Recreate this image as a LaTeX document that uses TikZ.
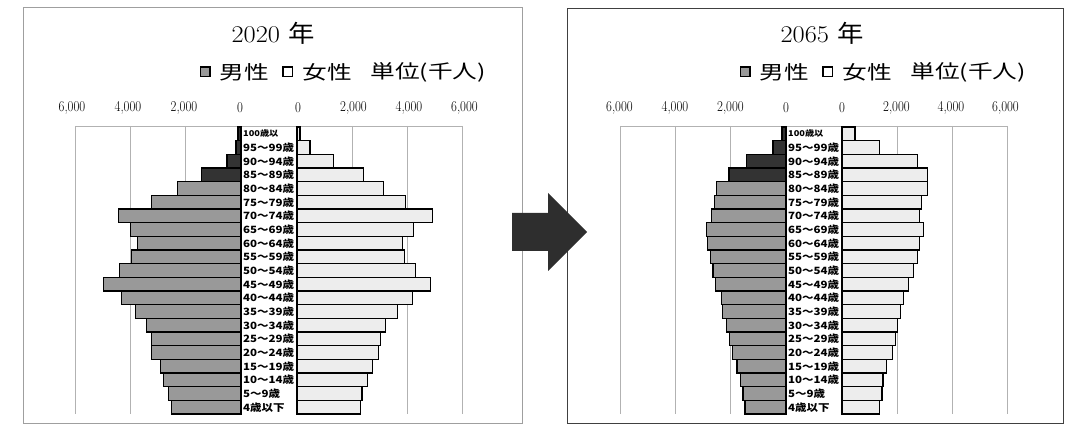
\documentclass[tikz,border=0pt]{standalone}
\usepackage{fontspec}
\newfontfamily\jp{Noto Sans CJK JP}
\usetikzlibrary{positioning}

\definecolor{malebar}{gray}{0.6}
\definecolor{olderbar}{gray}{0.2}
\definecolor{femalebar}{gray}{0.93}
\newcommand\wide[2][1.3]{\scalebox{#1}[1]{#2}}

\begin{document}
\begin{tikzpicture}[x=1pt,y=-1pt]

\tikzset{panel/.style={draw=gray!75, line width=0.8pt},
         gridline/.style={draw=gray!60, line width=0.7pt},
         agebar/.style={draw=black, line width=1.3pt},
         agelab/.style={anchor=west, inner sep=0pt, font=\jp\bfseries},
         axlab/.style={inner sep=0pt, font=\fontsize{15}{15}\selectfont},
         legtxt/.style={inner sep=0pt, font=\jp\fontsize{19}{19}\selectfont},
         legbox/.style={draw=black, line width=1.5pt, minimum size=9.5pt, inner sep=0pt},
         yeartitle/.style={inner sep=0pt, font=\fontsize{24}{24}\selectfont}}

\useasboundingbox (0,0) rectangle (1072,430);

% two panels
\draw[panel] (23,7) rectangle (522,423);
\draw[panel, draw=black!75] (567,8) rectangle (1063,423);

% ---- 2020 ----
\node[yeartitle] (t20) at (273,33) {\wide[1.1]{2020 {\jp 年}}};
\node[legbox, fill=malebar] (m20box) at (205,72) {};
\node[legtxt, right=9pt of m20box] (m20txt) {\wide{男性}};
\node[legbox, fill=white, right=13pt of m20txt] (f20box) {};
\node[legtxt, right=9pt of f20box] (f20txt) {\wide{女性}};
\node[legtxt, right=18pt of f20txt] (u20txt) {\wide{単位(千人)}};

\draw[gridline] (75,126) -- (463,126);
\foreach \k/\v in {0/0, 1/{2,000}, 2/{4,000}, 3/{6,000}} {
  \draw[gridline] (241-\k*55.2,126) -- (241-\k*55.2,414);
  \draw[gridline] (297+\k*55.2,126) -- (297+\k*55.2,414);
  \node[axlab] (ax20m\k) at (240-\k*56,108) {\wide[0.85]{\v}};
  \node[axlab] (ax20f\k) at (298+\k*55.5,108) {\wide[0.85]{\v}};
}

\foreach \m/\f/\lab [count=\i from 0] in {110/110/100歳以, 180/470/95～99歳,
    510/1310/90～94歳, 1420/2400/85～89歳, 2290/3130/80～84歳, 3240/3930/75～79歳,
    4440/4910/70～74歳, 4000/4220/65～69歳, 3750/3820/60～64歳, 3960/3890/55～59歳,
    4400/4290/50～54歳, 4980/4840/45～49歳, 4330/4180/40～44歳, 3820/3640/35～39歳,
    3420/3200/30～34歳, 3240/3020/25～29歳, 3240/2950/20～24歳, 2910/2730/15～19歳,
    2800/2550/10～14歳, 2620/2360/5～9歳, 2510/2290/4歳以下} {
  \pgfmathsetmacro\yt{127+\i*13.67}
  \pgfmathsetmacro\yb{\yt+13.67}
  \ifnum\i<4 \def\mc{olderbar}\else\def\mc{malebar}\fi
  \ifnum\i=0 \def\ls{8}\else\def\ls{10}\fi
  \draw[agebar, fill=\mc] (241-\m*0.0276,\yt) rectangle (241,\yb);
  \draw[agebar, fill=femalebar] (297,\yt) rectangle (297+\f*0.0276,\yb);
  \node[agelab] (a20-\i) at (243,\yt+6.9) {\fontsize{\ls}{\ls}\selectfont\wide[1.15]{\lab}};
}

% ---- 2065 ----
\node[yeartitle] (t65) at (822,33) {\wide[1.1]{2065 {\jp 年}}};
\node[legbox, fill=malebar] (m65box) at (745,72) {};
\node[legtxt, right=9pt of m65box] (m65txt) {\wide{男性}};
\node[legbox, fill=white, right=13pt of m65txt] (f65box) {};
\node[legtxt, right=9pt of f65box] (f65txt) {\wide{女性}};
\node[legtxt, right=18pt of f65txt] (u65txt) {\wide{単位(千人)}};

\draw[gridline] (620,126) -- (1008,126);
\foreach \k/\v in {0/0, 1/{2,000}, 2/{4,000}, 3/{6,000}} {
  \draw[gridline] (786-\k*55.2,126) -- (786-\k*55.2,414);
  \draw[gridline] (842+\k*55.2,126) -- (842+\k*55.2,414);
  \node[axlab] (ax65m\k) at (786-\k*55.5,108) {\wide[0.85]{\v}};
  \node[axlab] (ax65f\k) at (842+\k*54.5,108) {\wide[0.85]{\v}};
}

\foreach \m/\f/\lab [count=\i from 0] in {150/470/100歳以, 470/1350/95～99歳,
    1420/2730/90～94歳, 2070/3090/85～89歳, 2510/3090/80～84歳, 2580/2870/75～79歳,
    2690/2800/70～74歳, 2870/2950/65～69歳, 2840/2800/60～64歳, 2730/2730/55～59歳,
    2650/2580/50～54歳, 2550/2400/45～49歳, 2330/2220/40～44歳, 2290/2110/35～39歳,
    2150/2000/30～34歳, 2040/1930/25～29歳, 1930/1820/20～24歳, 1780/1600/15～19歳,
    1640/1490/10～14歳, 1560/1450/5～9歳, 1490/1350/4歳以下} {
  \pgfmathsetmacro\yt{127+\i*13.67}
  \pgfmathsetmacro\yb{\yt+13.67}
  \ifnum\i<4 \def\mc{olderbar}\else\def\mc{malebar}\fi
  \ifnum\i=0 \def\ls{8}\else\def\ls{10}\fi
  \draw[agebar, fill=\mc] (786-\m*0.0276,\yt) rectangle (786,\yb);
  \draw[agebar, fill=femalebar] (842,\yt) rectangle (842+\f*0.0276,\yb);
  \node[agelab] (a65-\i) at (788,\yt+6.9) {\fontsize{\ls}{\ls}\selectfont\wide[1.15]{\lab}};
}

% arrow between the years
\fill[black!82] (512,213) -- (548,213) -- (548,193) -- (587,232) -- (548,271)
  -- (548,251) -- (512,251) -- cycle;

\end{tikzpicture}
\end{document}
